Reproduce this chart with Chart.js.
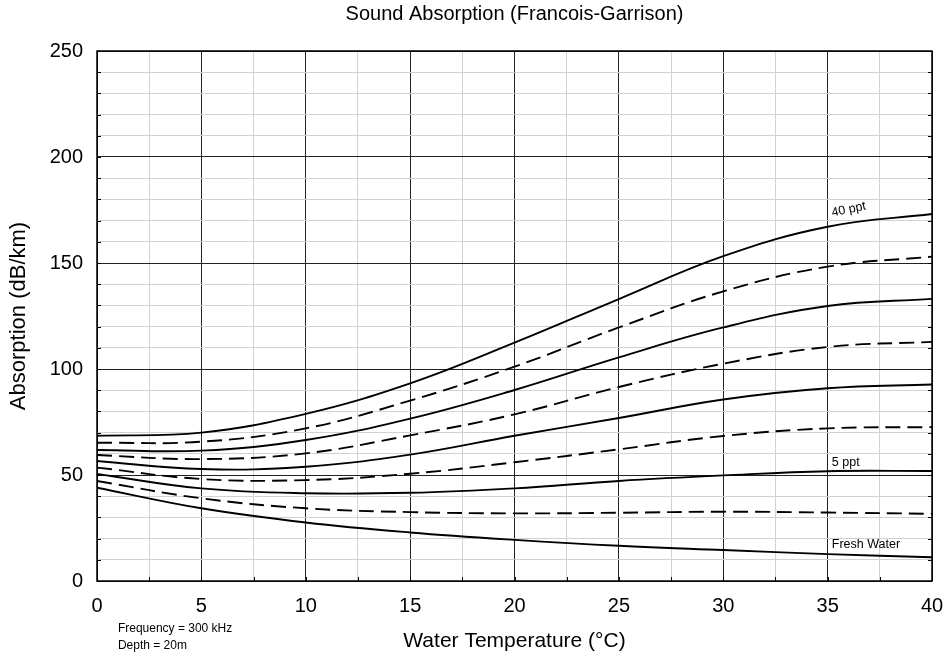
<!DOCTYPE html>
<html>
<head>
<meta charset="utf-8">
<script src="https://cdn.jsdelivr.net/npm/chart.js@4"></script>
<style>
  html, body { margin: 0; padding: 0; background: #fff; }
  #wrap { width: 948px; height: 657px; }
</style>
</head>
<body>
<div id="wrap"><canvas id="grafik" width="948" height="657"></canvas></div>
<script>
// water temperature (°C)
const temps = [0, 5, 10, 15, 20, 25, 30, 35, 40];

// absorption (dB/km), bottom curve to top curve
const freshWater = [44, 34.3, 27.6, 22.9, 19.4, 16.6, 14.6, 12.7, 11.2];
const dash1 = [47.2, 39, 34.3, 32.5, 31.9, 32.2, 32.7, 32.3, 31.7];
const ppt5 = [50.5, 43.7, 41.4, 41.6, 43.7, 47.2, 49.8, 51.8, 51.9];
const dash2 = [53.5, 48.1, 47.6, 50.6, 56, 62.1, 68.4, 72, 72.6];
const solid3 = [56.6, 52.8, 53.9, 59.6, 68.5, 76.9, 85.6, 90.9, 92.7];
const dash3 = [59.4, 57.5, 60.2, 68.7, 78.6, 91.5, 102.5, 110.4, 112.8];
const solid4 = [61.8, 61.5, 66.5, 76.6, 90.1, 105.5, 119.6, 129.7, 133.1];
const dash4 = [65.2, 65.7, 72, 85.1, 101.1, 119.6, 136.6, 148.3, 153];
const ppt40 = [68.5, 70, 78.8, 93.2, 112.4, 133, 153.2, 167.1, 173.1];

const curves = [
    { name: 'Fresh Water', values: freshWater, dashed: false },
    { name: 'dash 1', values: dash1, dashed: true },
    { name: '5 ppt', values: ppt5, dashed: false },
    { name: 'dash 2', values: dash2, dashed: true },
    { name: 'solid 3', values: solid3, dashed: false },
    { name: 'dash 3', values: dash3, dashed: true },
    { name: 'solid 4', values: solid4, dashed: false },
    { name: 'dash 4', values: dash4, dashed: true },
    { name: '40 ppt', values: ppt40, dashed: false }
];

const FONT = '"Liberation Sans", Arial, sans-serif';
const chartTitle = 'Sound Absorption (Francois-Garrison)';

// curve labels in data coordinates
const curveLabels = [
    { text: 'Fresh Water', x: 35.2, y: 17, rot: 0 },
    { text: '5 ppt', x: 35.2, y: 56, rot: 0 },
    { text: '40 ppt', x: 35.2, y: 173.5, rot: -12 }
];

const noteLines = ['Frequency = 300 kHz', 'Depth = 20m'];

const extras = {
    id: 'extras',
    afterDraw(chart) {
        const { ctx, chartArea: a, scales: { x, y } } = chart;
        ctx.save();
        // frame
        ctx.strokeStyle = '#000';
        ctx.lineWidth = 1.5;
        ctx.strokeRect(a.left, a.top, a.right - a.left, a.bottom - a.top);
        // inward tick marks
        ctx.lineWidth = 1;
        ctx.beginPath();
        for (let v = 0; v <= 250; v += 10) {
            const py = Math.round(y.getPixelForValue(v)) + 0.5;
            ctx.moveTo(a.left, py); ctx.lineTo(a.left + 4, py);
            ctx.moveTo(a.right, py); ctx.lineTo(a.right - 4, py);
        }
        for (let v = 0; v <= 40; v += 2.5) {
            const px = Math.round(x.getPixelForValue(v)) + 0.5;
            ctx.moveTo(px, a.bottom); ctx.lineTo(px, a.bottom - 4);
        }
        ctx.stroke();
        ctx.fillStyle = '#000';
        // title, centred over the plot
        ctx.font = '20px ' + FONT;
        ctx.textAlign = 'center';
        ctx.textBaseline = 'middle';
        ctx.fillText(chartTitle, (a.left + a.right) / 2, 14);
        // curve labels
        ctx.font = '12.5px ' + FONT;
        ctx.textAlign = 'left';
        curveLabels.forEach(l => {
            ctx.save();
            ctx.translate(x.getPixelForValue(l.x), y.getPixelForValue(l.y));
            ctx.rotate(l.rot * Math.PI / 180);
            ctx.fillText(l.text, 0, 0);
            ctx.restore();
        });
        // notes under the axis
        ctx.font = '12px ' + FONT;
        noteLines.forEach((t, i) => {
            ctx.fillText(t, x.getPixelForValue(1), a.bottom + 48 + i * 17);
        });
        ctx.restore();
    }
};

new Chart(document.getElementById('grafik'), {
    type: 'line',
    data: {
        datasets: curves.map(c => ({
            label: c.name,
            data: temps.map((t, i) => ({ x: t, y: c.values[i] })),
            borderColor: '#000',
            borderWidth: 1.9,
            borderDash: c.dashed ? [15, 7] : [],
            pointRadius: 0,
            tension: 0.4,
            fill: false
        }))
    },
    options: {
        responsive: false,
        animation: false,
        layout: { padding: { left: 0, right: 16, top: 51, bottom: 0 } },
        plugins: {
            legend: { display: false },
            tooltip: { enabled: false },
            title: { display: false }
        },
        scales: {
            x: {
                type: 'linear',
                min: 0,
                max: 40,
                afterFit(s) { s.height = 76; s.paddingLeft = 0; s.paddingRight = 0; },
                ticks: {
                    stepSize: 2.5,
                    autoSkip: false,
                    maxRotation: 0,
                    padding: 13,
                    color: '#000',
                    font: { family: FONT, size: 20 },
                    callback: v => (v % 5 === 0 ? v : '')
                },
                grid: {
                    drawTicks: false,
                    color: c => (c.tick && c.tick.value % 5 === 0 ? '#222' : '#d2d2d2')
                },
                border: { display: false },
                title: {
                    display: true,
                    text: 'Water Temperature (°C)',
                    color: '#000',
                    font: { family: FONT, size: 21 },
                    padding: { top: 0, bottom: 3 }
                }
            },
            y: {
                min: 0,
                max: 250,
                afterFit(s) { s.width = 97; s.paddingTop = 0; s.paddingBottom = 0; },
                ticks: {
                    stepSize: 10,
                    autoSkip: false,
                    padding: 14,
                    color: '#000',
                    font: { family: FONT, size: 20 },
                    callback: v => (v % 50 === 0 ? v : '')
                },
                grid: {
                    drawTicks: false,
                    color: c => (c.tick && c.tick.value % 50 === 0 ? '#222' : '#d2d2d2')
                },
                border: { display: false },
                title: {
                    display: true,
                    text: 'Absorption (dB/km)',
                    color: '#000',
                    font: { family: FONT, size: 22 },
                    padding: { top: 6, bottom: 0 }
                }
            }
        }
    },
    plugins: [extras]
});
</script>
</body>
</html>
